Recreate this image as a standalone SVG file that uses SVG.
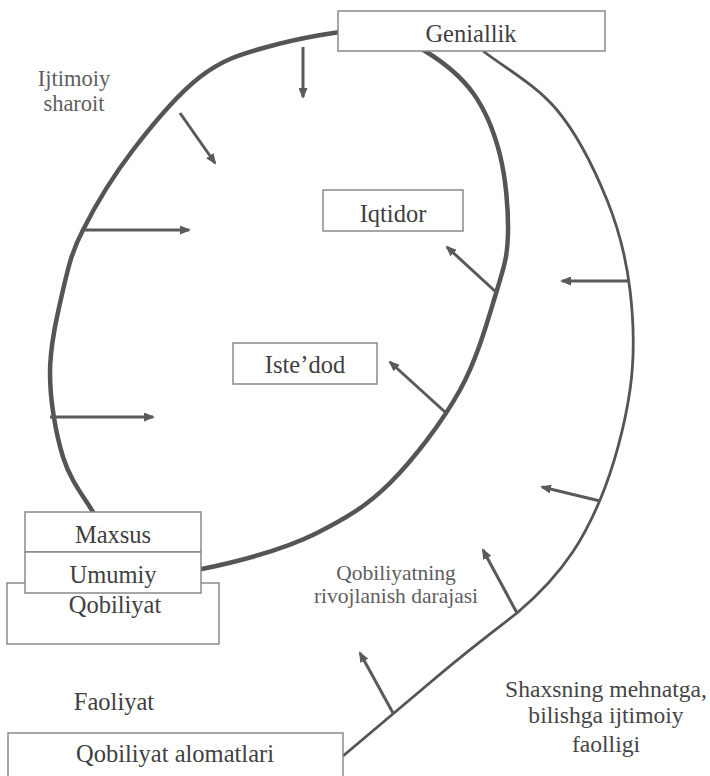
<svg xmlns="http://www.w3.org/2000/svg" width="710" height="776" viewBox="0 0 710 776">
<style>
.bg{fill:#ffffff}
.box{fill:#ffffff;stroke:#8a8a8a;stroke-width:1.5}
.t{font-family:"Liberation Serif","Times New Roman",serif;font-size:24.5px;fill:#404040;text-anchor:middle}
.t2{font-family:"Liberation Serif","Times New Roman",serif;font-size:23.6px;fill:#454545;text-anchor:middle}
.lt{font-family:"Liberation Serif","Times New Roman",serif;fill:#5e5e5e;text-anchor:middle}
.lt1{font-size:22.5px}
.lt2{font-size:21.5px}
.thick{fill:none;stroke:#555555;stroke-width:4.5}
.thin{fill:none;stroke:#555555;stroke-width:2.8}
.arr{fill:none;stroke:#5a5a5a;stroke-width:3;marker-end:url(#ah)}
</style>
<defs>
<marker id="ah" markerUnits="userSpaceOnUse" markerWidth="11" markerHeight="9" refX="9" refY="4.5" orient="auto">
<path d="M0,0 L11,4.5 L0,9 z" fill="#5a5a5a"/>
</marker>
</defs>
<rect class="bg" x="0" y="0" width="710" height="776"/>
<g id="connectors">
<path id="ellipse" class="thick" d="M370,30 C396.3,30.7 407.8,40.5 425,51 C442.2,61.5 460.5,75.7 473,93 C485.5,110.3 494.2,131.7 500,155 C505.8,178.3 508.5,210.5 508,233 C507.5,255.5 505,263.8 497,290 C489,316.2 477.8,357.8 460,390 C442.2,422.2 413.8,459.2 390,483 C366.2,506.8 343.2,519.8 317,533 C290.8,546.2 258.3,555.7 233,562 C207.7,568.3 184.2,573.3 165,571 C145.8,568.7 130,557.8 118,548 C106,538.2 102.2,527.2 93,512 C83.8,496.8 70.2,480.2 63,457 C55.8,433.8 50,400.8 50,373 C50,345.2 57.5,313.8 63,290 C68.5,266.2 72,251 83,230 C94.7,206.7 113.5,175.5 133,150 C152.5,124.5 177.7,94.2 200,77 C222.3,59.8 238.7,54.8 267,47 C295.3,39.2 343.7,29.3 370,30 Z"/>
<path id="outer" class="thin" d="M483,51 C508,70 536.3,85.2 557,110 C577.7,134.8 594.8,170 607,200 C619.2,230 626.2,258.3 630,290 C633.8,321.7 635,355 630,390 C625,425 613.8,467.2 600,500 C587,531 568,570 517,613 C490,634 467,651 432,681 C408,701 380,725 343,756"/>
<line class="arr" x1="303" y1="47" x2="303" y2="97"/>
<line class="arr" x1="180" y1="113" x2="215" y2="163"/>
<line class="arr" x1="83" y1="230" x2="189" y2="230"/>
<line class="arr" x1="50" y1="417" x2="153" y2="417"/>
<line class="arr" x1="497" y1="293" x2="447" y2="247"/>
<line class="arr" x1="445" y1="412" x2="390" y2="362"/>
<line class="arr" x1="630" y1="281" x2="562" y2="281"/>
<line class="arr" x1="600" y1="501" x2="542" y2="487"/>
<line class="arr" x1="517" y1="613" x2="483" y2="550"/>
<line class="arr" x1="393" y1="713" x2="360" y2="653"/>
</g>
<g id="geniallik">
<rect class="box" x="338" y="11" width="267" height="40"/>
<text class="t" x="471" y="42">Geniallik</text>
</g>
<g id="iqtidor">
<rect class="box" x="323" y="190" width="140" height="41"/>
<text class="t" x="393" y="222">Iqtidor</text>
</g>
<g id="istedod">
<rect class="box" x="233" y="343" width="144" height="41"/>
<text class="t" x="305" y="373">Iste’dod</text>
</g>
<g id="qobiliyat">
<rect class="box" x="7" y="583" width="212" height="61"/>
<text class="t" x="115" y="613">Qobiliyat</text>
</g>
<g id="maxsus">
<rect class="box" x="25" y="512" width="176" height="40"/>
<text class="t" x="113" y="543">Maxsus</text>
</g>
<g id="umumiy">
<rect class="box" x="25" y="552" width="176" height="41"/>
<text class="t" x="113" y="583">Umumiy</text>
</g>
<g id="qobiliyat-alomatlari">
<rect class="box" x="8" y="733" width="335" height="60"/>
<text class="t" x="175" y="762">Qobiliyat alomatlari</text>
</g>
<g id="ijtimoiy-sharoit">
<text class="lt lt1" x="74" y="86">Ijtimoiy</text>
<text class="lt lt1" x="74" y="111">sharoit</text>
</g>
<g id="rivojlanish">
<text class="lt lt2" x="396" y="580">Qobiliyatning</text>
<text class="lt lt2" x="396" y="603">rivojlanish darajasi</text>
</g>
<g id="faoliyat">
<text class="t" x="114" y="710">Faoliyat</text>
</g>
<g id="faollik">
<text class="t2" x="606" y="697">Shaxsning mehnatga,</text>
<text class="t2" x="606" y="723">bilishga ijtimoiy</text>
<text class="t2" x="606" y="752">faolligi</text>
</g>
</svg>
